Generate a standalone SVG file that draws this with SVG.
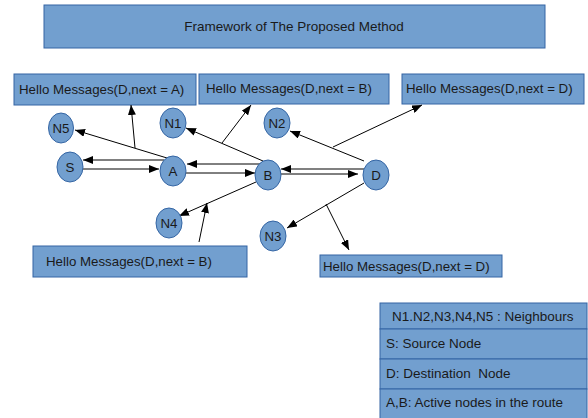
<svg xmlns="http://www.w3.org/2000/svg" width="588" height="418" viewBox="0 0 588 418">
<style>
.box{fill:#729fcf;stroke:#3465a4;stroke-width:1}
.nd{fill:#729fcf;stroke:#3465a4;stroke-width:1}
text{font-family:"Liberation Sans",Arial,sans-serif;font-size:13.3px;fill:#1a1a1a}
.c{text-anchor:middle}
.lg{font-size:13.5px;white-space:pre}
.ln{stroke:#000;stroke-width:1;fill:none}
.gr{stroke:#808080;stroke-width:2.2;fill:none}
</style>
<defs>
<marker id="ah" viewBox="0 0 10 8" refX="10" refY="4" markerWidth="10" markerHeight="8" orient="auto" markerUnits="userSpaceOnUse"><path d="M0,0 L10,4 L0,8 z" fill="#000"/></marker>
</defs>
<rect width="588" height="418" fill="#fff"/>
<g id="title"><rect class="box" x="44" y="5" width="501" height="43"/><text class="c" x="294" y="31" style="font-size:13.5px">Framework of The Proposed Method</text></g>
<g id="hello1"><rect class="box" x="14" y="74" width="182" height="31"/><text x="19" y="94">Hello Messages(D,next = A)</text></g>
<g id="hello2"><rect class="box" x="199" y="74" width="190" height="30"/><text x="206" y="93">Hello Messages(D,next = B)</text></g>
<g id="hello3"><rect class="box" x="402" y="74" width="182" height="30"/><text x="406" y="93">Hello Messages(D,next = D)</text></g>
<g id="hello4"><rect class="box" x="33" y="246" width="214" height="31"/><text x="46" y="266">Hello Messages(D,next = B)</text></g>
<g id="hello5"><rect class="box" x="320" y="255" width="182" height="22"/><text x="323" y="271">Hello Messages(D,next = D)</text></g>
<g id="connectors">
<path class="ln" d="M167,158 L75,130" marker-end="url(#ah)"/>
<path class="ln" d="M135,148 L131,105" marker-end="url(#ah)"/>
<path class="ln" d="M164,160 L83,160" marker-end="url(#ah)"/>
<path class="gr" d="M83,169 L159,169" marker-end="url(#ah)"/>
<path class="ln" d="M262,164 L187,164" marker-end="url(#ah)"/>
<path class="ln" d="M186,173 L255,173" marker-end="url(#ah)"/>
<path class="ln" d="M263,161 L186,128" marker-end="url(#ah)"/>
<path class="ln" d="M222,143 L251,105" marker-end="url(#ah)"/>
<path class="gr" d="M364,169 L281,169" marker-end="url(#ah)"/>
<path class="ln" d="M281,174 L358,174" marker-end="url(#ah)"/>
<path class="ln" d="M364,161 L290,131" marker-end="url(#ah)"/>
<path class="ln" d="M333,147 L422,105" marker-end="url(#ah)"/>
<path class="ln" d="M256,182 L179,216" marker-end="url(#ah)"/>
<path class="ln" d="M199,242 L207,203" marker-end="url(#ah)"/>
<path class="ln" d="M364,183 L287,228" marker-end="url(#ah)"/>
<path class="ln" d="M326,204 L349,250" marker-end="url(#ah)"/>
</g>
<g id="N5"><ellipse class="nd" cx="61" cy="128" rx="12.5" ry="15"/><text class="c" x="61" y="133">N5</text></g>
<g id="S"><ellipse class="nd" cx="70" cy="167" rx="13" ry="15"/><text class="c" x="70" y="172">S</text></g>
<g id="A"><ellipse class="nd" cx="173" cy="171" rx="13" ry="15"/><text class="c" x="173" y="176">A</text></g>
<g id="N1"><ellipse class="nd" cx="173" cy="123" rx="13" ry="15"/><text class="c" x="173" y="128">N1</text></g>
<g id="B"><ellipse class="nd" cx="268" cy="175" rx="13" ry="15"/><text class="c" x="268" y="180">B</text></g>
<g id="N2"><ellipse class="nd" cx="277" cy="123" rx="13" ry="15"/><text class="c" x="277" y="128">N2</text></g>
<g id="D"><ellipse class="nd" cx="376" cy="175" rx="13" ry="15"/><text class="c" x="376" y="180">D</text></g>
<g id="N4"><ellipse class="nd" cx="169" cy="223" rx="13" ry="15"/><text class="c" x="169" y="228">N4</text></g>
<g id="N3"><ellipse class="nd" cx="273" cy="236" rx="13" ry="15"/><text class="c" x="273" y="241">N3</text></g>
<g id="legend">
<rect class="box" x="380" y="303" width="207" height="26"/>
<rect class="box" x="380" y="329" width="207" height="30"/>
<rect class="box" x="380" y="359" width="207" height="30"/>
<rect class="box" x="380" y="389" width="207" height="32"/>
<text class="lg" x="392" y="321">N1.N2,N3,N4,N5 : Neighbours</text>
<text class="lg" x="386" y="348">S: Source Node</text>
<text class="lg" x="386" y="378">D: Destination  Node</text>
<text class="lg" x="386" y="407">A,B: Active nodes in the route</text>
</g>
</svg>
